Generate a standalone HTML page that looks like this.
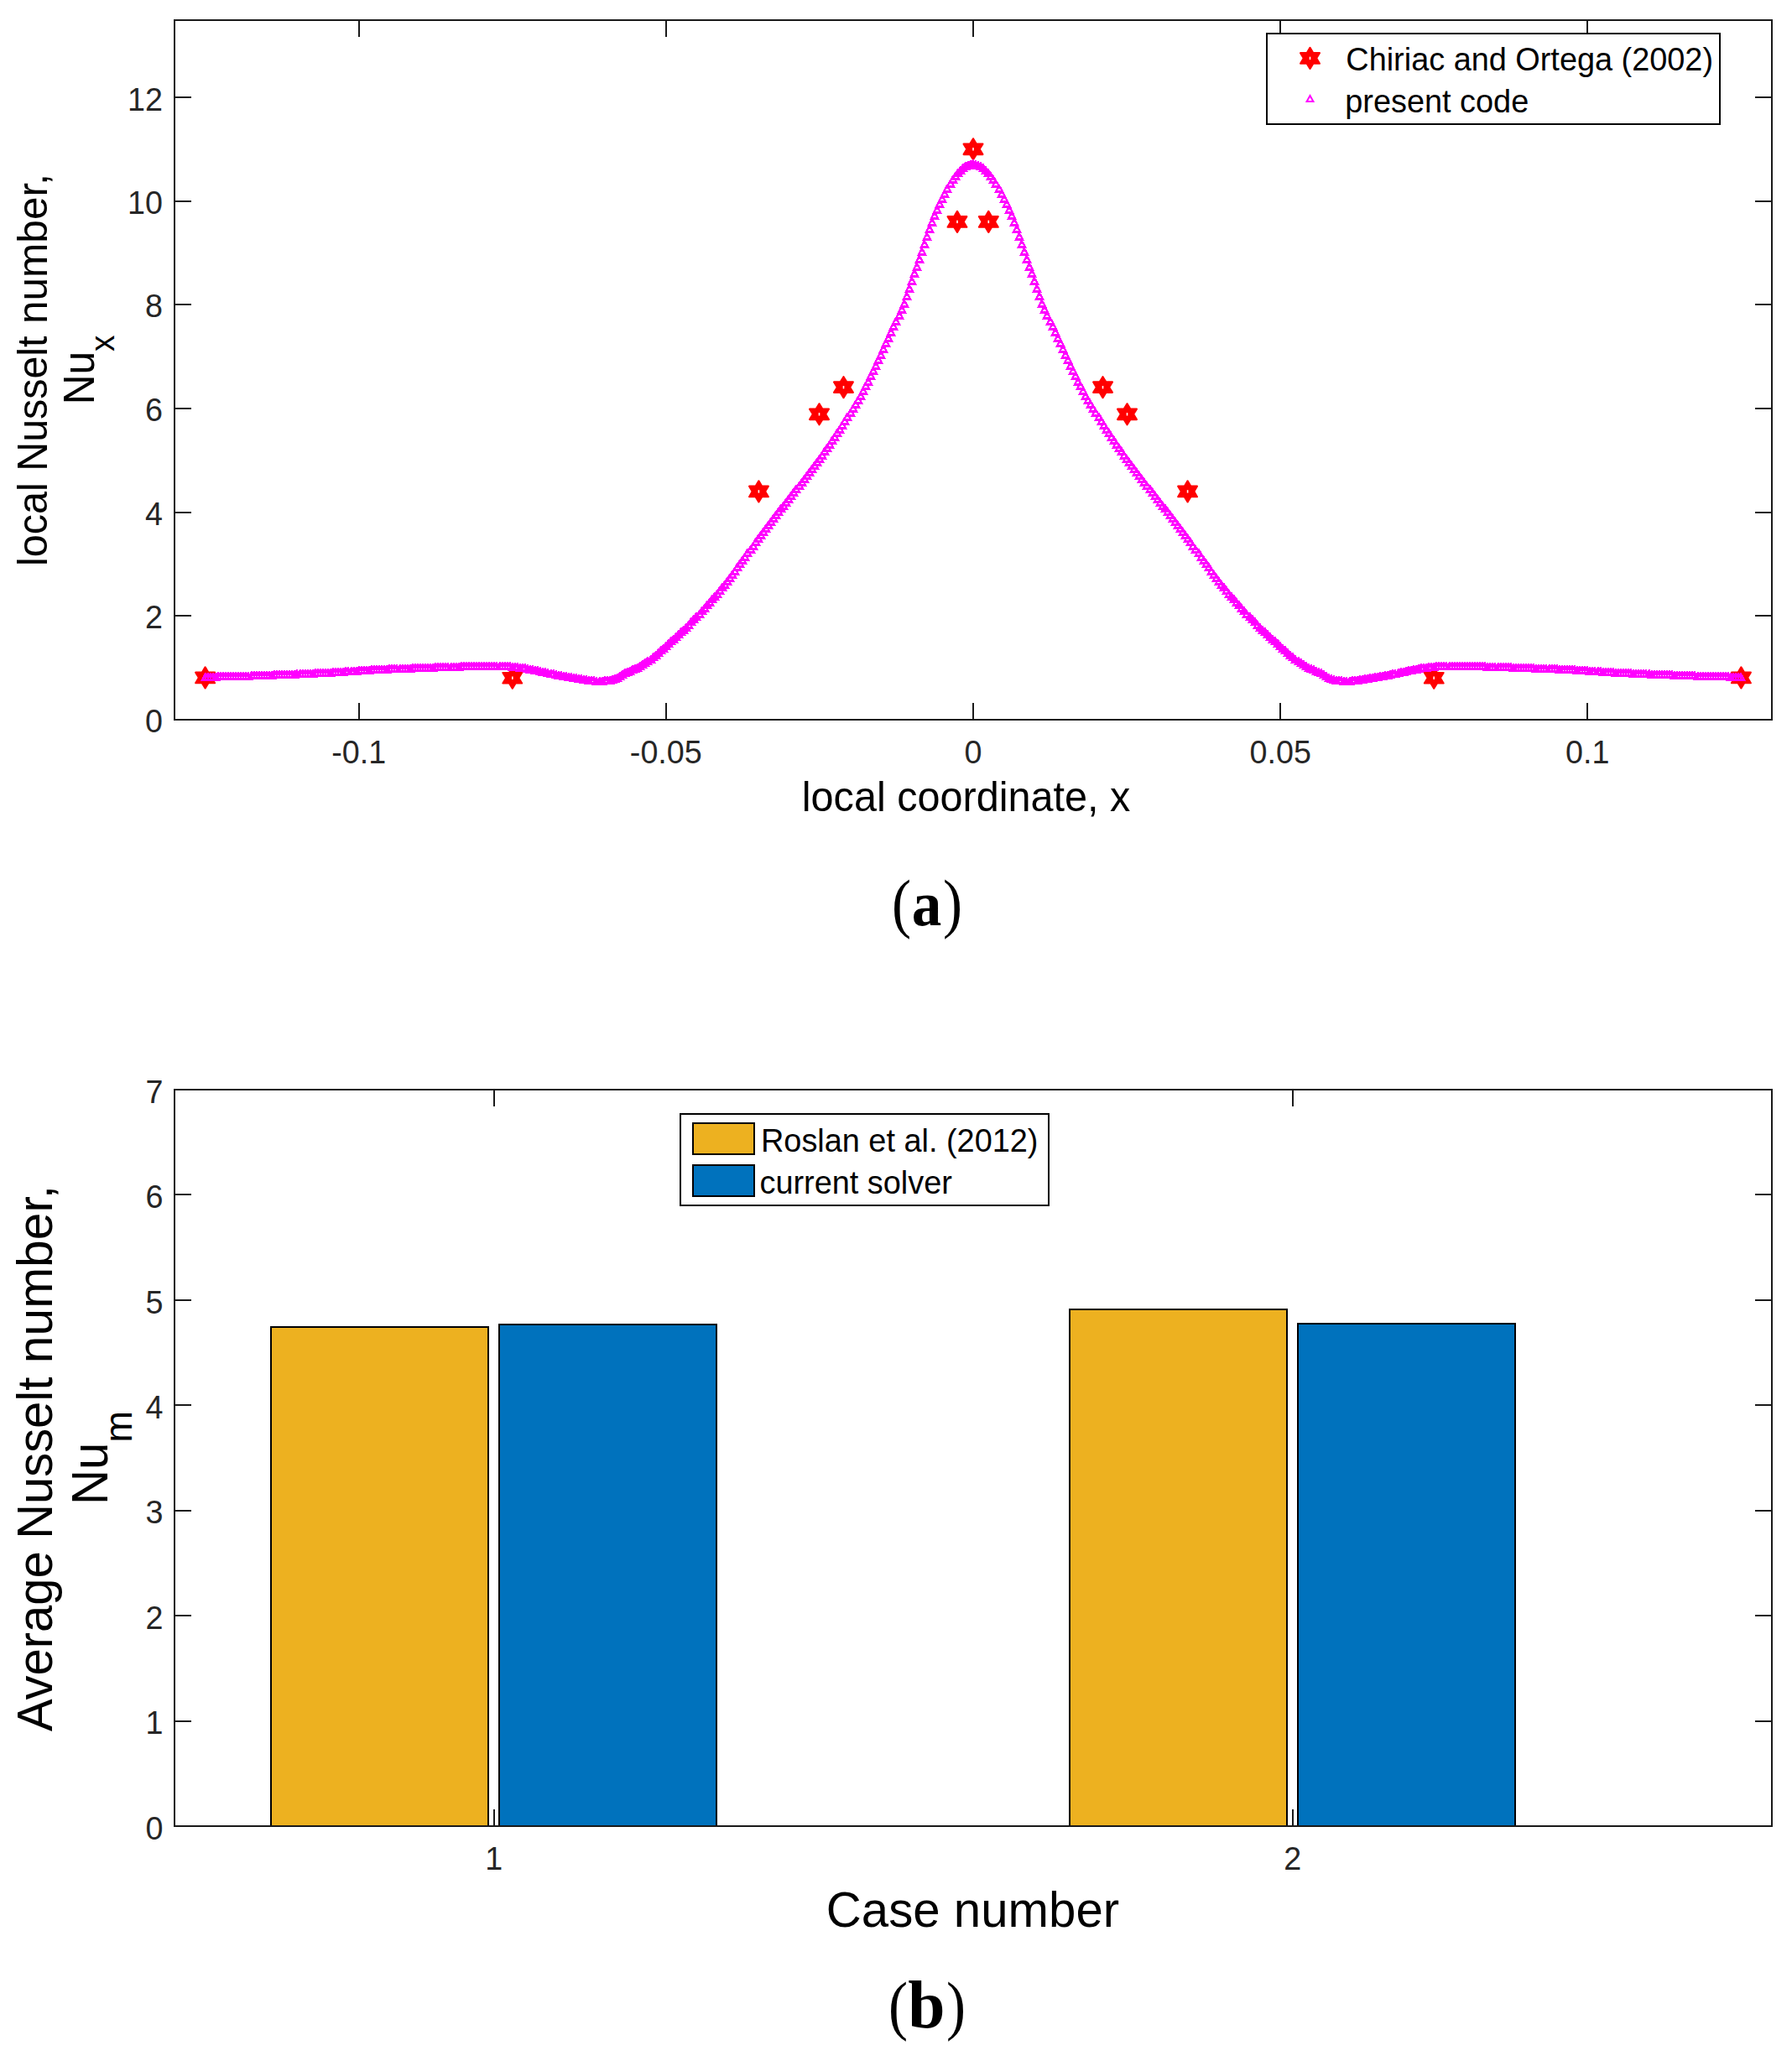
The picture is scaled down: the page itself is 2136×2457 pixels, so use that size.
<!DOCTYPE html><html><head><meta charset="utf-8"><title>Figure</title>
<style>html,body{margin:0;padding:0;background:#fff}svg{display:block}text{font-family:'Liberation Sans',Arial,Helvetica,sans-serif}.t{fill:#262626}.l{fill:#000}.ax{stroke:#1a1a1a;stroke-width:2;fill:none;shape-rendering:crispEdges}.bx{stroke:#000;stroke-width:2;shape-rendering:crispEdges}.cap{font-family:"Liberation Serif","DejaVu Serif",serif;fill:#000}</style></head><body>
<svg width="2136" height="2457" viewBox="0 0 2136 2457">
<rect width="2136" height="2457" fill="#fff"/>
<path class="ax" d="M428,858v-20M428,24v20M794,858v-20M794,24v20M1160,858v-20M1160,24v20M1526,858v-20M1526,24v20M1892,858v-20M1892,24v20M208,858h20M2112,858h-20M208,734h20M2112,734h-20M208,611h20M2112,611h-20M208,487h20M2112,487h-20M208,363h20M2112,363h-20M208,240h20M2112,240h-20M208,116h20M2112,116h-20"/>
<rect class="ax" x="208" y="24" width="1904" height="834"/>
<text class="t" transform="translate(427.7,910.0) scale(0.9615,1)" font-size="39.2" text-anchor="middle">-0.1</text>
<text class="t" transform="translate(793.8,910.0) scale(0.9615,1)" font-size="39.2" text-anchor="middle">-0.05</text>
<text class="t" transform="translate(1160.0,910.0) scale(0.9615,1)" font-size="39.2" text-anchor="middle">0</text>
<text class="t" transform="translate(1526.2,910.0) scale(0.9615,1)" font-size="39.2" text-anchor="middle">0.05</text>
<text class="t" transform="translate(1892.3,910.0) scale(0.9615,1)" font-size="39.2" text-anchor="middle">0.1</text>
<text class="t" transform="translate(194.0,872.8) scale(0.9615,1)" font-size="39.2" text-anchor="end">0</text>
<text class="t" transform="translate(194.0,749.1) scale(0.9615,1)" font-size="39.2" text-anchor="end">2</text>
<text class="t" transform="translate(194.0,625.5) scale(0.9615,1)" font-size="39.2" text-anchor="end">4</text>
<text class="t" transform="translate(194.0,501.8) scale(0.9615,1)" font-size="39.2" text-anchor="end">6</text>
<text class="t" transform="translate(194.0,378.1) scale(0.9615,1)" font-size="39.2" text-anchor="end">8</text>
<text class="t" transform="translate(194.0,254.5) scale(0.9615,1)" font-size="39.2" text-anchor="end">10</text>
<text class="t" transform="translate(194.0,132.0) scale(0.9615,1)" font-size="39.2" text-anchor="end">12</text>
<g fill="#f00" stroke="#f00" stroke-width="2.2" stroke-linejoin="round">
<polygon points="244.6,795.4 248.4,801.7 256.0,801.7 252.2,807.9 256.0,814.2 248.4,814.2 244.6,820.4 240.8,814.2 233.2,814.2 237.0,807.9 233.2,801.7 240.8,801.7"/>
<polygon points="610.8,795.7 614.6,802.0 622.1,802.0 618.3,808.2 622.1,814.5 614.6,814.5 610.8,820.7 607.0,814.5 599.4,814.5 603.2,808.2 599.4,802.0 607.0,802.0"/>
<polygon points="904.4,573.4 908.2,579.7 915.8,579.7 912.0,585.9 915.8,592.2 908.2,592.2 904.4,598.4 900.6,592.2 893.1,592.2 896.8,585.9 893.1,579.7 900.6,579.7"/>
<polygon points="976.5,481.3 980.3,487.6 987.9,487.6 984.1,493.8 987.9,500.1 980.3,500.1 976.5,506.3 972.7,500.1 965.1,500.1 968.9,493.8 965.1,487.6 972.7,487.6"/>
<polygon points="1005.5,449.2 1009.3,455.4 1016.8,455.4 1013.1,461.7 1016.8,467.9 1009.3,467.9 1005.5,474.2 1001.7,467.9 994.1,467.9 997.9,461.7 994.1,455.4 1001.7,455.4"/>
<polygon points="1141.0,251.9 1144.7,258.2 1152.3,258.2 1148.5,264.4 1152.3,270.7 1144.7,270.7 1141.0,276.9 1137.2,270.7 1129.6,270.7 1133.4,264.4 1129.6,258.2 1137.2,258.2"/>
<polygon points="1160.0,165.3 1163.8,171.6 1171.4,171.6 1167.6,177.8 1171.4,184.1 1163.8,184.1 1160.0,190.3 1156.2,184.1 1148.6,184.1 1152.4,177.8 1148.6,171.6 1156.2,171.6"/>
<polygon points="1178.3,251.9 1182.1,258.2 1189.7,258.2 1185.9,264.4 1189.7,270.7 1182.1,270.7 1178.3,276.9 1174.5,270.7 1166.9,270.7 1170.7,264.4 1166.9,258.2 1174.5,258.2"/>
<polygon points="1314.5,449.2 1318.3,455.4 1325.9,455.4 1322.1,461.7 1325.9,467.9 1318.3,467.9 1314.5,474.2 1310.7,467.9 1303.2,467.9 1306.9,461.7 1303.2,455.4 1310.7,455.4"/>
<polygon points="1343.5,481.3 1347.3,487.6 1354.9,487.6 1351.1,493.8 1354.9,500.1 1347.3,500.1 1343.5,506.3 1339.7,500.1 1332.1,500.1 1335.9,493.8 1332.1,487.6 1339.7,487.6"/>
<polygon points="1415.6,573.4 1419.4,579.7 1426.9,579.7 1423.2,585.9 1426.9,592.2 1419.4,592.2 1415.6,598.4 1411.8,592.2 1404.2,592.2 1408.0,585.9 1404.2,579.7 1411.8,579.7"/>
<polygon points="1709.2,795.7 1713.0,802.0 1720.6,802.0 1716.8,808.2 1720.6,814.5 1713.0,814.5 1709.2,820.7 1705.4,814.5 1697.9,814.5 1701.7,808.2 1697.9,802.0 1705.4,802.0"/>
<polygon points="2075.4,795.4 2079.2,801.7 2086.8,801.7 2083.0,807.9 2086.8,814.2 2079.2,814.2 2075.4,820.4 2071.6,814.2 2064.0,814.2 2067.8,807.9 2064.0,801.7 2071.6,801.7"/>
</g>
<g fill="#fff">
<rect x="243.8" y="806.2" width="1.6" height="3.4"/>
<rect x="610.0" y="806.5" width="1.6" height="3.4"/>
<rect x="903.6" y="584.2" width="1.6" height="3.4"/>
<rect x="975.7" y="492.1" width="1.6" height="3.4"/>
<rect x="1004.7" y="460.0" width="1.6" height="3.4"/>
<rect x="1140.2" y="262.7" width="1.6" height="3.4"/>
<rect x="1159.2" y="176.1" width="1.6" height="3.4"/>
<rect x="1177.5" y="262.7" width="1.6" height="3.4"/>
<rect x="1313.7" y="460.0" width="1.6" height="3.4"/>
<rect x="1342.7" y="492.1" width="1.6" height="3.4"/>
<rect x="1414.8" y="584.2" width="1.6" height="3.4"/>
<rect x="1708.4" y="806.5" width="1.6" height="3.4"/>
<rect x="2074.6" y="806.2" width="1.6" height="3.4"/>
</g>
<path d="M245,803.27l4,7.1h-8zM248,803.27l4,7.1h-8zM251,803.27l4,7.1h-8zM254,803.27l4,7.1h-8zM257,803.27l4,7.1h-8zM260,802.27l4,7.1h-8zM263,802.27l4,7.1h-8zM266,802.27l4,7.1h-8zM269,802.27l4,7.1h-8zM272,802.27l4,7.1h-8zM275,802.27l4,7.1h-8zM278,802.27l4,7.1h-8zM281,802.27l4,7.1h-8zM284,802.27l4,7.1h-8zM287,802.27l4,7.1h-8zM290,802.27l4,7.1h-8zM293,802.27l4,7.1h-8zM296,802.27l4,7.1h-8zM300,801.27l4,7.1h-8zM303,801.27l4,7.1h-8zM306,801.27l4,7.1h-8zM309,801.27l4,7.1h-8zM312,801.27l4,7.1h-8zM315,801.27l4,7.1h-8zM318,801.27l4,7.1h-8zM321,801.27l4,7.1h-8zM324,801.27l4,7.1h-8zM327,800.27l4,7.1h-8zM330,800.27l4,7.1h-8zM333,800.27l4,7.1h-8zM336,800.27l4,7.1h-8zM339,800.27l4,7.1h-8zM342,800.27l4,7.1h-8zM345,800.27l4,7.1h-8zM348,800.27l4,7.1h-8zM351,800.27l4,7.1h-8zM354,799.27l4,7.1h-8zM358,799.27l4,7.1h-8zM361,799.27l4,7.1h-8zM364,799.27l4,7.1h-8zM367,799.27l4,7.1h-8zM370,799.27l4,7.1h-8zM373,799.27l4,7.1h-8zM376,798.27l4,7.1h-8zM379,798.27l4,7.1h-8zM382,798.27l4,7.1h-8zM385,798.27l4,7.1h-8zM388,798.27l4,7.1h-8zM391,798.27l4,7.1h-8zM394,798.27l4,7.1h-8zM397,797.27l4,7.1h-8zM400,797.27l4,7.1h-8zM403,797.27l4,7.1h-8zM406,797.27l4,7.1h-8zM409,797.27l4,7.1h-8zM412,796.27l4,7.1h-8zM415,796.27l4,7.1h-8zM419,796.27l4,7.1h-8zM422,796.27l4,7.1h-8zM425,796.27l4,7.1h-8zM428,795.27l4,7.1h-8zM431,795.27l4,7.1h-8zM434,795.27l4,7.1h-8zM437,795.27l4,7.1h-8zM440,795.27l4,7.1h-8zM443,794.27l4,7.1h-8zM446,794.27l4,7.1h-8zM449,794.27l4,7.1h-8zM452,794.27l4,7.1h-8zM455,794.27l4,7.1h-8zM458,794.27l4,7.1h-8zM461,794.27l4,7.1h-8zM464,793.27l4,7.1h-8zM467,793.27l4,7.1h-8zM470,793.27l4,7.1h-8zM473,793.27l4,7.1h-8zM477,793.27l4,7.1h-8zM480,793.27l4,7.1h-8zM483,793.27l4,7.1h-8zM486,793.27l4,7.1h-8zM489,793.27l4,7.1h-8zM492,792.27l4,7.1h-8zM495,792.27l4,7.1h-8zM498,792.27l4,7.1h-8zM501,792.27l4,7.1h-8zM504,792.27l4,7.1h-8zM507,792.27l4,7.1h-8zM510,792.27l4,7.1h-8zM513,792.27l4,7.1h-8zM516,792.27l4,7.1h-8zM519,791.27l4,7.1h-8zM522,791.27l4,7.1h-8zM525,791.27l4,7.1h-8zM528,791.27l4,7.1h-8zM531,791.27l4,7.1h-8zM534,791.27l4,7.1h-8zM538,791.27l4,7.1h-8zM541,791.27l4,7.1h-8zM544,791.27l4,7.1h-8zM547,791.27l4,7.1h-8zM550,790.27l4,7.1h-8zM553,790.27l4,7.1h-8zM556,790.27l4,7.1h-8zM559,790.27l4,7.1h-8zM562,790.27l4,7.1h-8zM565,790.27l4,7.1h-8zM568,790.27l4,7.1h-8zM571,790.27l4,7.1h-8zM574,790.27l4,7.1h-8zM577,790.27l4,7.1h-8zM580,790.27l4,7.1h-8zM583,790.27l4,7.1h-8zM586,790.27l4,7.1h-8zM589,790.27l4,7.1h-8zM592,790.27l4,7.1h-8zM596,790.27l4,7.1h-8zM599,790.27l4,7.1h-8zM602,790.27l4,7.1h-8zM605,790.27l4,7.1h-8zM608,790.27l4,7.1h-8zM611,791.27l4,7.1h-8zM614,791.27l4,7.1h-8zM617,791.27l4,7.1h-8zM620,792.27l4,7.1h-8zM623,792.27l4,7.1h-8zM626,792.27l4,7.1h-8zM629,793.27l4,7.1h-8zM632,794.27l4,7.1h-8zM635,794.27l4,7.1h-8zM638,795.27l4,7.1h-8zM641,795.27l4,7.1h-8zM644,796.27l4,7.1h-8zM647,797.27l4,7.1h-8zM650,797.27l4,7.1h-8zM653,798.27l4,7.1h-8zM657,799.27l4,7.1h-8zM660,799.27l4,7.1h-8zM663,800.27l4,7.1h-8zM666,801.27l4,7.1h-8zM669,801.27l4,7.1h-8zM672,802.27l4,7.1h-8zM675,802.27l4,7.1h-8zM678,803.27l4,7.1h-8zM681,803.27l4,7.1h-8zM684,804.27l4,7.1h-8zM687,804.27l4,7.1h-8zM690,805.27l4,7.1h-8zM693,805.27l4,7.1h-8zM696,806.27l4,7.1h-8zM699,806.27l4,7.1h-8zM702,807.27l4,7.1h-8zM705,807.27l4,7.1h-8zM708,807.27l4,7.1h-8zM711,808.27l4,7.1h-8zM715,808.27l4,7.1h-8zM718,808.27l4,7.1h-8zM721,807.27l4,7.1h-8zM724,807.27l4,7.1h-8zM727,807.27l4,7.1h-8zM730,806.27l4,7.1h-8zM733,805.27l4,7.1h-8zM736,804.27l4,7.1h-8zM739,802.27l4,7.1h-8zM742,800.27l4,7.1h-8zM745,798.27l4,7.1h-8zM748,797.27l4,7.1h-8zM751,796.27l4,7.1h-8zM754,794.27l4,7.1h-8zM757,793.27l4,7.1h-8zM760,792.27l4,7.1h-8zM763,790.27l4,7.1h-8zM766,788.27l4,7.1h-8zM769,786.27l4,7.1h-8zM772,784.27l4,7.1h-8zM776,782.27l4,7.1h-8zM779,779.27l4,7.1h-8zM782,777.27l4,7.1h-8zM785,774.27l4,7.1h-8zM788,771.27l4,7.1h-8zM791,769.27l4,7.1h-8zM794,766.27l4,7.1h-8zM797,763.27l4,7.1h-8zM800,760.27l4,7.1h-8zM803,758.27l4,7.1h-8zM806,755.27l4,7.1h-8zM809,752.27l4,7.1h-8zM812,749.27l4,7.1h-8zM815,747.27l4,7.1h-8zM818,744.27l4,7.1h-8zM821,741.27l4,7.1h-8zM824,737.27l4,7.1h-8zM827,734.27l4,7.1h-8zM830,731.27l4,7.1h-8zM834,728.27l4,7.1h-8zM837,724.27l4,7.1h-8zM840,721.27l4,7.1h-8zM843,717.27l4,7.1h-8zM846,714.27l4,7.1h-8zM849,710.27l4,7.1h-8zM852,707.27l4,7.1h-8zM855,704.27l4,7.1h-8zM858,700.27l4,7.1h-8zM861,696.27l4,7.1h-8zM864,693.27l4,7.1h-8zM867,689.27l4,7.1h-8zM870,685.27l4,7.1h-8zM873,681.27l4,7.1h-8zM876,677.27l4,7.1h-8zM879,672.27l4,7.1h-8zM882,668.27l4,7.1h-8zM885,664.27l4,7.1h-8zM888,660.27l4,7.1h-8zM891,655.27l4,7.1h-8zM895,651.27l4,7.1h-8zM898,647.27l4,7.1h-8zM901,642.27l4,7.1h-8zM904,638.27l4,7.1h-8zM907,634.27l4,7.1h-8zM910,630.27l4,7.1h-8zM913,626.27l4,7.1h-8zM916,622.27l4,7.1h-8zM919,618.27l4,7.1h-8zM922,614.27l4,7.1h-8zM925,610.27l4,7.1h-8zM928,606.27l4,7.1h-8zM931,602.27l4,7.1h-8zM934,599.27l4,7.1h-8zM937,595.27l4,7.1h-8zM940,591.27l4,7.1h-8zM943,587.27l4,7.1h-8zM946,583.27l4,7.1h-8zM949,579.27l4,7.1h-8zM953,575.27l4,7.1h-8zM956,571.27l4,7.1h-8zM959,567.27l4,7.1h-8zM962,563.27l4,7.1h-8zM965,559.27l4,7.1h-8zM968,555.27l4,7.1h-8zM971,551.27l4,7.1h-8zM974,547.27l4,7.1h-8zM977,543.27l4,7.1h-8zM980,539.27l4,7.1h-8zM983,534.27l4,7.1h-8zM986,530.27l4,7.1h-8zM989,526.27l4,7.1h-8zM992,521.27l4,7.1h-8zM995,517.27l4,7.1h-8zM998,512.27l4,7.1h-8zM1001,508.27l4,7.1h-8zM1004,503.27l4,7.1h-8zM1007,498.27l4,7.1h-8zM1010,493.27l4,7.1h-8zM1014,488.27l4,7.1h-8zM1017,483.27l4,7.1h-8zM1020,478.27l4,7.1h-8zM1023,473.27l4,7.1h-8zM1026,468.27l4,7.1h-8zM1029,462.27l4,7.1h-8zM1032,456.27l4,7.1h-8zM1035,451.27l4,7.1h-8zM1038,444.27l4,7.1h-8zM1041,438.27l4,7.1h-8zM1044,432.27l4,7.1h-8zM1047,425.27l4,7.1h-8zM1050,419.27l4,7.1h-8zM1053,412.27l4,7.1h-8zM1056,405.27l4,7.1h-8zM1059,399.27l4,7.1h-8zM1062,392.27l4,7.1h-8zM1065,385.27l4,7.1h-8zM1068,379.27l4,7.1h-8zM1072,372.27l4,7.1h-8zM1075,365.27l4,7.1h-8zM1078,358.27l4,7.1h-8zM1081,349.27l4,7.1h-8zM1084,340.27l4,7.1h-8zM1087,331.27l4,7.1h-8zM1090,322.27l4,7.1h-8zM1093,314.27l4,7.1h-8zM1096,305.27l4,7.1h-8zM1099,296.27l4,7.1h-8zM1102,287.27l4,7.1h-8zM1105,278.27l4,7.1h-8zM1108,269.27l4,7.1h-8zM1111,261.27l4,7.1h-8zM1114,253.27l4,7.1h-8zM1117,246.27l4,7.1h-8zM1120,239.27l4,7.1h-8zM1123,233.27l4,7.1h-8zM1126,227.27l4,7.1h-8zM1129,221.27l4,7.1h-8zM1133,215.27l4,7.1h-8zM1136,210.27l4,7.1h-8zM1139,206.27l4,7.1h-8zM1142,202.27l4,7.1h-8zM1145,199.27l4,7.1h-8zM1148,196.27l4,7.1h-8zM1151,194.27l4,7.1h-8zM1154,193.27l4,7.1h-8zM1157,192.27l4,7.1h-8zM1160,191.27l4,7.1h-8zM1163,192.27l4,7.1h-8zM1166,193.27l4,7.1h-8zM1169,194.27l4,7.1h-8zM1172,196.27l4,7.1h-8zM1175,199.27l4,7.1h-8zM1178,202.27l4,7.1h-8zM1181,206.27l4,7.1h-8zM1184,210.27l4,7.1h-8zM1187,215.27l4,7.1h-8zM1191,221.27l4,7.1h-8zM1194,227.27l4,7.1h-8zM1197,233.27l4,7.1h-8zM1200,239.27l4,7.1h-8zM1203,246.27l4,7.1h-8zM1206,253.27l4,7.1h-8zM1209,261.27l4,7.1h-8zM1212,269.27l4,7.1h-8zM1215,278.27l4,7.1h-8zM1218,287.27l4,7.1h-8zM1221,296.27l4,7.1h-8zM1224,305.27l4,7.1h-8zM1227,314.27l4,7.1h-8zM1230,322.27l4,7.1h-8zM1233,331.27l4,7.1h-8zM1236,340.27l4,7.1h-8zM1239,349.27l4,7.1h-8zM1242,358.27l4,7.1h-8zM1245,365.27l4,7.1h-8zM1248,372.27l4,7.1h-8zM1252,379.27l4,7.1h-8zM1255,385.27l4,7.1h-8zM1258,392.27l4,7.1h-8zM1261,399.27l4,7.1h-8zM1264,405.27l4,7.1h-8zM1267,412.27l4,7.1h-8zM1270,419.27l4,7.1h-8zM1273,425.27l4,7.1h-8zM1276,432.27l4,7.1h-8zM1279,438.27l4,7.1h-8zM1282,444.27l4,7.1h-8zM1285,451.27l4,7.1h-8zM1288,456.27l4,7.1h-8zM1291,462.27l4,7.1h-8zM1294,468.27l4,7.1h-8zM1297,473.27l4,7.1h-8zM1300,478.27l4,7.1h-8zM1303,483.27l4,7.1h-8zM1306,488.27l4,7.1h-8zM1310,493.27l4,7.1h-8zM1313,498.27l4,7.1h-8zM1316,503.27l4,7.1h-8zM1319,508.27l4,7.1h-8zM1322,512.27l4,7.1h-8zM1325,517.27l4,7.1h-8zM1328,521.27l4,7.1h-8zM1331,526.27l4,7.1h-8zM1334,530.27l4,7.1h-8zM1337,534.27l4,7.1h-8zM1340,539.27l4,7.1h-8zM1343,543.27l4,7.1h-8zM1346,547.27l4,7.1h-8zM1349,551.27l4,7.1h-8zM1352,555.27l4,7.1h-8zM1355,559.27l4,7.1h-8zM1358,563.27l4,7.1h-8zM1361,567.27l4,7.1h-8zM1364,571.27l4,7.1h-8zM1367,575.27l4,7.1h-8zM1371,579.27l4,7.1h-8zM1374,583.27l4,7.1h-8zM1377,587.27l4,7.1h-8zM1380,591.27l4,7.1h-8zM1383,595.27l4,7.1h-8zM1386,599.27l4,7.1h-8zM1389,602.27l4,7.1h-8zM1392,606.27l4,7.1h-8zM1395,610.27l4,7.1h-8zM1398,614.27l4,7.1h-8zM1401,618.27l4,7.1h-8zM1404,622.27l4,7.1h-8zM1407,626.27l4,7.1h-8zM1410,630.27l4,7.1h-8zM1413,634.27l4,7.1h-8zM1416,638.27l4,7.1h-8zM1419,642.27l4,7.1h-8zM1422,647.27l4,7.1h-8zM1425,651.27l4,7.1h-8zM1429,655.27l4,7.1h-8zM1432,660.27l4,7.1h-8zM1435,664.27l4,7.1h-8zM1438,668.27l4,7.1h-8zM1441,672.27l4,7.1h-8zM1444,677.27l4,7.1h-8zM1447,681.27l4,7.1h-8zM1450,685.27l4,7.1h-8zM1453,689.27l4,7.1h-8zM1456,693.27l4,7.1h-8zM1459,696.27l4,7.1h-8zM1462,700.27l4,7.1h-8zM1465,704.27l4,7.1h-8zM1468,707.27l4,7.1h-8zM1471,710.27l4,7.1h-8zM1474,714.27l4,7.1h-8zM1477,717.27l4,7.1h-8zM1480,721.27l4,7.1h-8zM1483,724.27l4,7.1h-8zM1486,728.27l4,7.1h-8zM1490,731.27l4,7.1h-8zM1493,734.27l4,7.1h-8zM1496,737.27l4,7.1h-8zM1499,741.27l4,7.1h-8zM1502,744.27l4,7.1h-8zM1505,747.27l4,7.1h-8zM1508,749.27l4,7.1h-8zM1511,752.27l4,7.1h-8zM1514,755.27l4,7.1h-8zM1517,758.27l4,7.1h-8zM1520,760.27l4,7.1h-8zM1523,763.27l4,7.1h-8zM1526,766.27l4,7.1h-8zM1529,769.27l4,7.1h-8zM1532,771.27l4,7.1h-8zM1535,774.27l4,7.1h-8zM1538,777.27l4,7.1h-8zM1541,779.27l4,7.1h-8zM1544,782.27l4,7.1h-8zM1548,784.27l4,7.1h-8zM1551,786.27l4,7.1h-8zM1554,788.27l4,7.1h-8zM1557,790.27l4,7.1h-8zM1560,792.27l4,7.1h-8zM1563,793.27l4,7.1h-8zM1566,794.27l4,7.1h-8zM1569,796.27l4,7.1h-8zM1572,797.27l4,7.1h-8zM1575,798.27l4,7.1h-8zM1578,800.27l4,7.1h-8zM1581,802.27l4,7.1h-8zM1584,804.27l4,7.1h-8zM1587,805.27l4,7.1h-8zM1590,806.27l4,7.1h-8zM1593,807.27l4,7.1h-8zM1596,807.27l4,7.1h-8zM1599,807.27l4,7.1h-8zM1602,808.27l4,7.1h-8zM1605,808.27l4,7.1h-8zM1609,808.27l4,7.1h-8zM1612,807.27l4,7.1h-8zM1615,807.27l4,7.1h-8zM1618,807.27l4,7.1h-8zM1621,806.27l4,7.1h-8zM1624,806.27l4,7.1h-8zM1627,805.27l4,7.1h-8zM1630,805.27l4,7.1h-8zM1633,804.27l4,7.1h-8zM1636,804.27l4,7.1h-8zM1639,803.27l4,7.1h-8zM1642,803.27l4,7.1h-8zM1645,802.27l4,7.1h-8zM1648,802.27l4,7.1h-8zM1651,801.27l4,7.1h-8zM1654,801.27l4,7.1h-8zM1657,800.27l4,7.1h-8zM1660,799.27l4,7.1h-8zM1663,799.27l4,7.1h-8zM1667,798.27l4,7.1h-8zM1670,797.27l4,7.1h-8zM1673,797.27l4,7.1h-8zM1676,796.27l4,7.1h-8zM1679,795.27l4,7.1h-8zM1682,795.27l4,7.1h-8zM1685,794.27l4,7.1h-8zM1688,794.27l4,7.1h-8zM1691,793.27l4,7.1h-8zM1694,792.27l4,7.1h-8zM1697,792.27l4,7.1h-8zM1700,792.27l4,7.1h-8zM1703,791.27l4,7.1h-8zM1706,791.27l4,7.1h-8zM1709,791.27l4,7.1h-8zM1712,790.27l4,7.1h-8zM1715,790.27l4,7.1h-8zM1718,790.27l4,7.1h-8zM1721,790.27l4,7.1h-8zM1724,790.27l4,7.1h-8zM1728,790.27l4,7.1h-8zM1731,790.27l4,7.1h-8zM1734,790.27l4,7.1h-8zM1737,790.27l4,7.1h-8zM1740,790.27l4,7.1h-8zM1743,790.27l4,7.1h-8zM1746,790.27l4,7.1h-8zM1749,790.27l4,7.1h-8zM1752,790.27l4,7.1h-8zM1755,790.27l4,7.1h-8zM1758,790.27l4,7.1h-8zM1761,790.27l4,7.1h-8zM1764,790.27l4,7.1h-8zM1767,790.27l4,7.1h-8zM1770,790.27l4,7.1h-8zM1773,791.27l4,7.1h-8zM1776,791.27l4,7.1h-8zM1779,791.27l4,7.1h-8zM1782,791.27l4,7.1h-8zM1786,791.27l4,7.1h-8zM1789,791.27l4,7.1h-8zM1792,791.27l4,7.1h-8zM1795,791.27l4,7.1h-8zM1798,791.27l4,7.1h-8zM1801,791.27l4,7.1h-8zM1804,792.27l4,7.1h-8zM1807,792.27l4,7.1h-8zM1810,792.27l4,7.1h-8zM1813,792.27l4,7.1h-8zM1816,792.27l4,7.1h-8zM1819,792.27l4,7.1h-8zM1822,792.27l4,7.1h-8zM1825,792.27l4,7.1h-8zM1828,792.27l4,7.1h-8zM1831,793.27l4,7.1h-8zM1834,793.27l4,7.1h-8zM1837,793.27l4,7.1h-8zM1840,793.27l4,7.1h-8zM1843,793.27l4,7.1h-8zM1847,793.27l4,7.1h-8zM1850,793.27l4,7.1h-8zM1853,793.27l4,7.1h-8zM1856,793.27l4,7.1h-8zM1859,794.27l4,7.1h-8zM1862,794.27l4,7.1h-8zM1865,794.27l4,7.1h-8zM1868,794.27l4,7.1h-8zM1871,794.27l4,7.1h-8zM1874,794.27l4,7.1h-8zM1877,794.27l4,7.1h-8zM1880,795.27l4,7.1h-8zM1883,795.27l4,7.1h-8zM1886,795.27l4,7.1h-8zM1889,795.27l4,7.1h-8zM1892,795.27l4,7.1h-8zM1895,796.27l4,7.1h-8zM1898,796.27l4,7.1h-8zM1901,796.27l4,7.1h-8zM1905,796.27l4,7.1h-8zM1908,796.27l4,7.1h-8zM1911,797.27l4,7.1h-8zM1914,797.27l4,7.1h-8zM1917,797.27l4,7.1h-8zM1920,797.27l4,7.1h-8zM1923,797.27l4,7.1h-8zM1926,798.27l4,7.1h-8zM1929,798.27l4,7.1h-8zM1932,798.27l4,7.1h-8zM1935,798.27l4,7.1h-8zM1938,798.27l4,7.1h-8zM1941,798.27l4,7.1h-8zM1944,798.27l4,7.1h-8zM1947,799.27l4,7.1h-8zM1950,799.27l4,7.1h-8zM1953,799.27l4,7.1h-8zM1956,799.27l4,7.1h-8zM1959,799.27l4,7.1h-8zM1962,799.27l4,7.1h-8zM1966,799.27l4,7.1h-8zM1969,800.27l4,7.1h-8zM1972,800.27l4,7.1h-8zM1975,800.27l4,7.1h-8zM1978,800.27l4,7.1h-8zM1981,800.27l4,7.1h-8zM1984,800.27l4,7.1h-8zM1987,800.27l4,7.1h-8zM1990,800.27l4,7.1h-8zM1993,800.27l4,7.1h-8zM1996,801.27l4,7.1h-8zM1999,801.27l4,7.1h-8zM2002,801.27l4,7.1h-8zM2005,801.27l4,7.1h-8zM2008,801.27l4,7.1h-8zM2011,801.27l4,7.1h-8zM2014,801.27l4,7.1h-8zM2017,801.27l4,7.1h-8zM2020,801.27l4,7.1h-8zM2024,802.27l4,7.1h-8zM2027,802.27l4,7.1h-8zM2030,802.27l4,7.1h-8zM2033,802.27l4,7.1h-8zM2036,802.27l4,7.1h-8zM2039,802.27l4,7.1h-8zM2042,802.27l4,7.1h-8zM2045,802.27l4,7.1h-8zM2048,802.27l4,7.1h-8zM2051,802.27l4,7.1h-8zM2054,802.27l4,7.1h-8zM2057,802.27l4,7.1h-8zM2060,802.27l4,7.1h-8zM2063,803.27l4,7.1h-8zM2066,803.27l4,7.1h-8zM2069,803.27l4,7.1h-8zM2072,803.27l4,7.1h-8zM2075,803.27l4,7.1h-8z" fill="none" stroke="#f0f" stroke-width="2.4" stroke-linejoin="miter" shape-rendering="crispEdges"/>
<rect class="bx" x="1510" y="40" width="540" height="108" fill="#fff"/>
<g fill="#f00" stroke="#f00" stroke-width="2.2" stroke-linejoin="round"><polygon points="1561.5,56.9 1565.3,63.2 1572.9,63.2 1569.1,69.4 1572.9,75.7 1565.3,75.7 1561.5,81.9 1557.7,75.7 1550.1,75.7 1553.9,69.4 1550.1,63.2 1557.7,63.2"/></g><rect x="1560.7" y="67.7" width="1.6" height="3.4" fill="#fff"/>
<path d="M1561.5,113.95l3.9,6.95h-7.8z" fill="none" stroke="#f0f" stroke-width="2"/>
<text class="l" transform="translate(1604.3,84.0) scale(0.9615,1)" font-size="39.4" text-anchor="start">Chiriac and Ortega (2002)</text>
<text class="l" transform="translate(1603.3,134.0) scale(0.9615,1)" font-size="39.4" text-anchor="start">present code</text>
<text class="l" transform="translate(1151.6,967.0) scale(0.9624,1)" font-size="50.5" text-anchor="middle">local coordinate, x</text>
<text class="l" transform="translate(55.9,675.0) rotate(-90) scale(0.9609,1)" font-size="50.5" text-anchor="start">local</text>
<text class="l" transform="translate(55.9,561.8) rotate(-90) scale(0.9579,1)" font-size="50.5" text-anchor="start">Nusselt</text>
<text class="l" transform="translate(55.9,386.0) rotate(-90) scale(0.9812,1)" font-size="50.5" text-anchor="start">number,</text>
<text class="l" transform="translate(112.1,482.3) rotate(-90) scale(0.9626,1)" font-size="51.5" text-anchor="start">Nu<tspan font-size="40.4" dy="23.9">x</tspan></text>
<text class="cap" transform="translate(1074.6,1102.5) scale(0.88,1)" font-size="78.6" text-anchor="middle">(</text><text class="cap" transform="translate(1104.6,1102.5) scale(0.93,1)" font-size="76.5" font-weight="bold" text-anchor="middle">a</text><text class="cap" transform="translate(1135.4,1102.5) scale(0.88,1)" font-size="78.6" text-anchor="middle">)</text>
<path class="ax" d="M589,2177v-20M589,1299v20M1541,2177v-20M1541,1299v20M208,2177h20M2112,2177h-20M208,2052h20M2112,2052h-20M208,1926h20M2112,1926h-20M208,1801h20M2112,1801h-20M208,1675h20M2112,1675h-20M208,1550h20M2112,1550h-20M208,1424h20M2112,1424h-20M208,1299h20M2112,1299h-20"/>
<rect class="ax" x="208" y="1299" width="1904" height="878"/>
<rect class="bx" x="323" y="1582" width="259" height="595" fill="#edb120"/>
<rect class="bx" x="595" y="1579" width="259" height="598" fill="#0072bd"/>
<rect class="bx" x="1275" y="1561" width="259" height="616" fill="#edb120"/>
<rect class="bx" x="1547" y="1578" width="259" height="599" fill="#0072bd"/>
<path class="ax" d="M208,2177H2112"/>
<text class="t" transform="translate(588.8,2228.6) scale(0.9615,1)" font-size="39.2" text-anchor="middle">1</text>
<text class="t" transform="translate(1540.8,2228.6) scale(0.9615,1)" font-size="39.2" text-anchor="middle">2</text>
<text class="t" transform="translate(194.5,2192.6) scale(0.9615,1)" font-size="39.2" text-anchor="end">0</text>
<text class="t" transform="translate(194.5,2067.2) scale(0.9615,1)" font-size="39.2" text-anchor="end">1</text>
<text class="t" transform="translate(194.5,1941.7) scale(0.9615,1)" font-size="39.2" text-anchor="end">2</text>
<text class="t" transform="translate(194.5,1816.3) scale(0.9615,1)" font-size="39.2" text-anchor="end">3</text>
<text class="t" transform="translate(194.5,1690.9) scale(0.9615,1)" font-size="39.2" text-anchor="end">4</text>
<text class="t" transform="translate(194.5,1565.5) scale(0.9615,1)" font-size="39.2" text-anchor="end">5</text>
<text class="t" transform="translate(194.5,1440.0) scale(0.9615,1)" font-size="39.2" text-anchor="end">6</text>
<text class="t" transform="translate(194.5,1314.6) scale(0.9615,1)" font-size="39.2" text-anchor="end">7</text>
<rect class="bx" x="811" y="1328" width="439" height="109" fill="#fff"/>
<rect class="bx" x="826" y="1339" width="73" height="37" fill="#edb120"/>
<rect class="bx" x="826" y="1389" width="73" height="37" fill="#0072bd"/>
<text class="l" transform="translate(907.0,1373.0) scale(0.9615,1)" font-size="39.4" text-anchor="start">Roslan et al. (2012)</text>
<text class="l" transform="translate(905.5,1423.0) scale(0.9615,1)" font-size="39.4" text-anchor="start">current solver</text>
<text class="l" transform="translate(1159.5,2297.4) scale(0.9700,1)" font-size="60.0" text-anchor="middle">Case number</text>
<text class="l" transform="translate(62.0,2064.0) rotate(-90) scale(0.9661,1)" font-size="60.0" text-anchor="start">Average</text>
<text class="l" transform="translate(62.0,1834.8) rotate(-90) scale(0.9652,1)" font-size="60.0" text-anchor="start">Nusselt</text>
<text class="l" transform="translate(62.0,1625.2) rotate(-90) scale(0.9797,1)" font-size="60.0" text-anchor="start">number,</text>
<text class="l" transform="translate(128.2,1794.0) rotate(-90) scale(0.9541,1)" font-size="61.0" text-anchor="start">Nu<tspan font-size="47" dy="28.7">m</tspan></text>
<text class="cap" transform="translate(1070.6,2416.5) scale(0.88,1)" font-size="78.6" text-anchor="middle">(</text><text class="cap" transform="translate(1104.3,2417.0) scale(1.00,1)" font-size="79.5" font-weight="bold" text-anchor="middle">b</text><text class="cap" transform="translate(1139.4,2416.5) scale(0.88,1)" font-size="78.6" text-anchor="middle">)</text>
</svg></body></html>
